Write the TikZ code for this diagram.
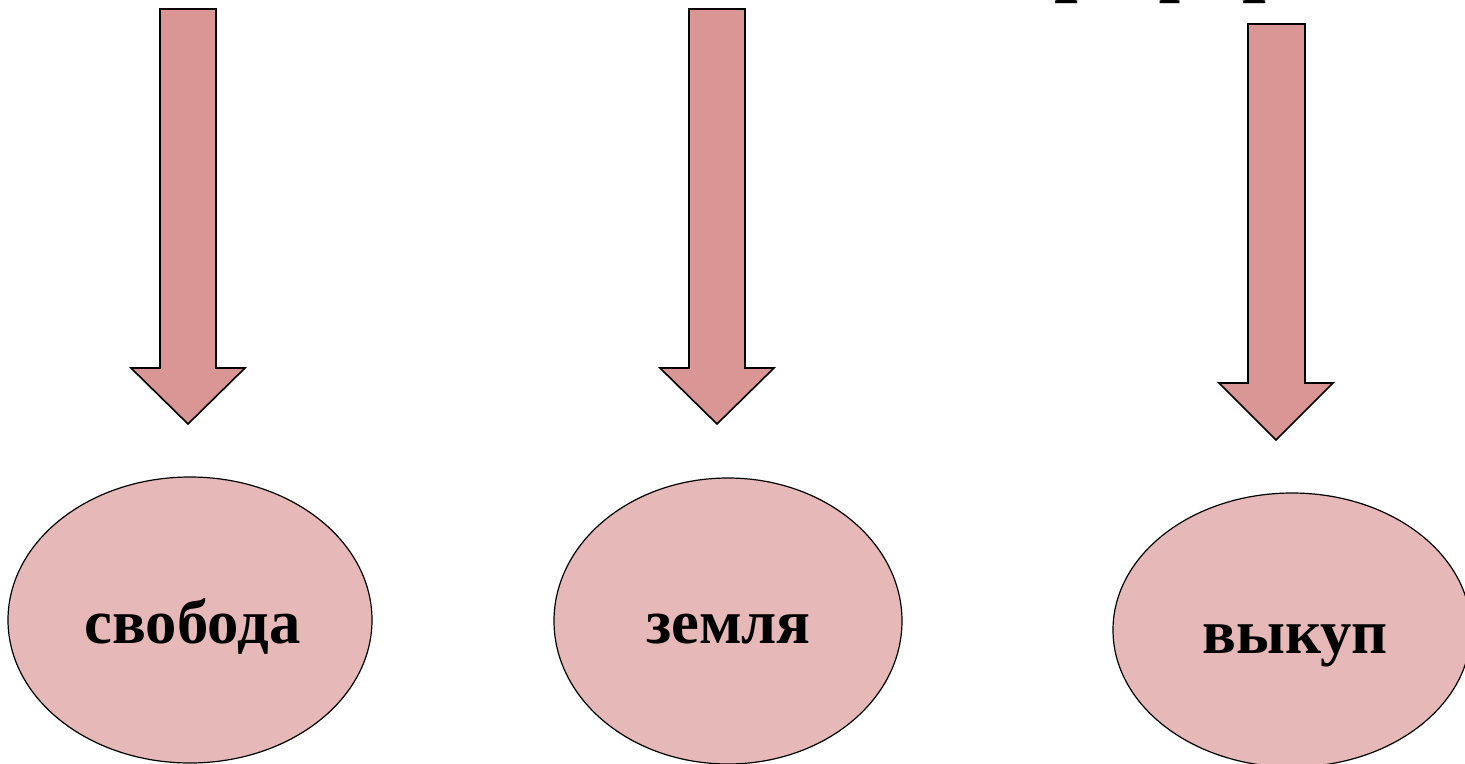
\documentclass[tikz,border=0pt]{standalone}
\usepackage{fontspec}
\setmainfont{Liberation Serif}
\usetikzlibrary{shapes.geometric}
\definecolor{arrowfill}{HTML}{D99694}
\definecolor{ellfill}{HTML}{E6B9B8}
\begin{document}
\begin{tikzpicture}[x=0.75pt,y=-0.75pt,
  bigarrow/.style={fill=arrowfill,draw=black,line width=1.2pt,line join=miter},
  oval/.style={ellipse,fill=ellfill,draw=black,line width=0.9pt,inner sep=0pt},
  word/.style={inner sep=0pt,anchor=base,font=\bfseries\fontsize{47}{50}\selectfont}]
\useasboundingbox (0,0) rectangle (1465,764);
\clip (0,0) rectangle (1465,764);
% cut-off title at the top
\node[inner sep=0pt,anchor=base west,font=\bfseries\fontsize{64}{70}\selectfont] (title) at (1054,-15) {реформа};
% arrows
\draw[bigarrow] (160,9) -- (216,9) -- (216,368) -- (245,368) -- (188,424) -- (131,368) -- (160,368) -- cycle;
\draw[bigarrow] (689,9) -- (745,9) -- (745,368) -- (774,368) -- (717,424) -- (660,368) -- (689,368) -- cycle;
\draw[bigarrow] (1248,24) -- (1305,24) -- (1305,383) -- (1333,383) -- (1276,440) -- (1219,383) -- (1248,383) -- cycle;
% ellipses
\node[oval,minimum width=273pt,minimum height=214.5pt] (e1) at (190,620) {};
\node[oval,minimum width=261pt,minimum height=214.5pt] (e2) at (728,621) {};
\node[oval,minimum width=268.5pt,minimum height=205.5pt] (e3) at (1292,630) {};
\node[word] (t1) at (192.5,643) {свобода};
\node[word] (t2) at (728.5,643) {земля};
\node[word] (t3) at (1295,653) {выкуп};
\end{tikzpicture}
\end{document}
